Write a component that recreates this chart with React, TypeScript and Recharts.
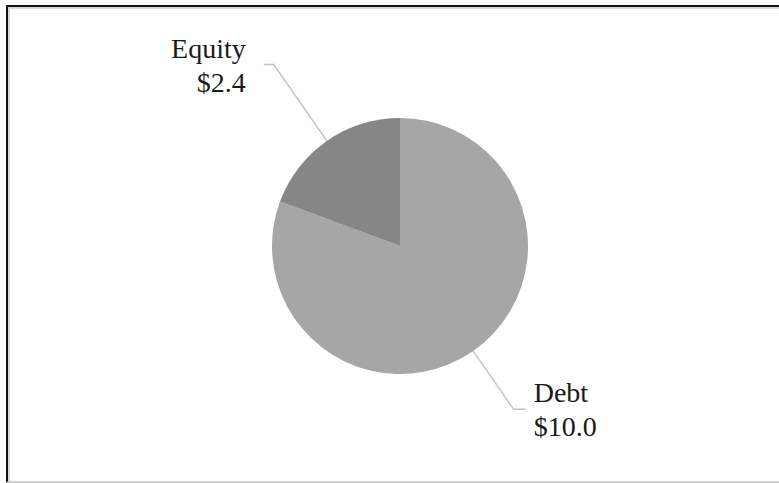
import React from "react";
import { PieChart, Pie, Cell } from "recharts";

const categories = ["Debt", "Equity"];
const values = [10.0, 2.4];
const colors = ["#a6a6a6", "#868686"];

const data = categories.map((name, i) => ({ name, value: values[i] }));

const RAD = Math.PI / 180;
const elbowExtra = [71, 93];

const renderLabel = (props: any) => {
  const { cx, cy, midAngle, outerRadius, index, name, value } = props;
  const cos = Math.cos(-midAngle * RAD);
  const sin = Math.sin(-midAngle * RAD);
  const sx = cx + outerRadius * cos;
  const sy = cy + outerRadius * sin;
  const er = outerRadius + elbowExtra[index];
  const ex = cx + er * cos;
  const ey = cy + er * sin;
  const right = cos >= 0;
  const hx = ex + (right ? 12 : -10);
  const tx = ex + (right ? 20 : -28);
  return (
    <g>
      <polyline
        points={`${sx},${sy} ${ex},${ey} ${hx},${ey}`}
        fill="none"
        stroke="#c4c4c4"
        strokeWidth={1.5}
      />
      <text
        x={tx}
        y={ey - 7}
        textAnchor={right ? "start" : "end"}
        fontFamily="'Liberation Serif', 'Times New Roman', serif"
        fontSize={28}
        fill="#1a1a1a"
      >
        {name}
      </text>
      <text
        x={tx}
        y={ey + 27}
        textAnchor={right ? "start" : "end"}
        fontFamily="'Liberation Serif', 'Times New Roman', serif"
        fontSize={28}
        fill="#1a1a1a"
      >
        {"$" + Number(value).toFixed(1)}
      </text>
    </g>
  );
};

export default function App() {
  return (
    <div style={{ position: "absolute", left: 0, top: 0, width: 779, height: 483, overflow: "hidden", background: "#fff" }}>
      <div
        style={{
          position: "absolute",
          left: 6,
          top: 5,
          width: 800,
          height: 474,
          borderLeft: "2px solid #111",
          borderTop: "2px solid #111",
          borderBottom: "2px solid #cfcfcf",
          boxShadow: "inset 2px 2px 0 #d8d8d8",
        }}
      />
      <div style={{ position: "absolute", left: 0, top: 0 }}>
        <PieChart width={779} height={483} margin={{ top: 0, right: 0, bottom: 0, left: 0 }}>
          <Pie
            data={data}
            dataKey="value"
            nameKey="name"
            cx={400}
            cy={246}
            outerRadius={128}
            startAngle={90}
            endAngle={-270}
            stroke="none"
            label={renderLabel}
            labelLine={false}
            isAnimationActive={false}
          >
            {data.map((d, i) => (
              <Cell key={d.name} fill={colors[i]} />
            ))}
          </Pie>
        </PieChart>
      </div>
    </div>
  );
}
